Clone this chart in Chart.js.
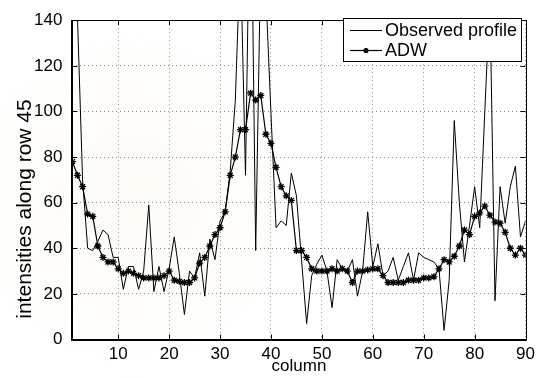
<!DOCTYPE html>
<html>
<head>
<meta charset="utf-8">
<script src="https://cdn.jsdelivr.net/npm/chart.js@4.4.0/dist/chart.umd.min.js"></script>
<style>
  html, body { margin: 0; padding: 0; background: #fff; }
  #wrap { position: relative; width: 540px; height: 378px; }
</style>
</head>
<body>
<div id="wrap"><canvas id="profileChart"></canvas></div>
<script>
// ------------------------------
// profile data (row 45)
// ------------------------------
const columns = [
   1,  2,  3,  4,  5,  6,  7,  8,  9, 10, 11, 12, 13, 14, 15, 16, 17, 18,
  19, 20, 21, 22, 23, 24, 25, 26, 27, 28, 29, 30, 31, 32, 33, 34, 35, 36,
  37, 38, 39, 40, 41, 42, 43, 44, 45, 46, 47, 48, 49, 50, 51, 52, 53, 54,
  55, 56, 57, 58, 59, 60, 61, 62, 63, 64, 65, 66, 67, 68, 69, 70, 71, 72,
  73, 74, 75, 76, 77, 78, 79, 80, 81, 82, 83, 84, 85, 86, 87, 88, 89, 90
];

const observedProfile = [
  160, 141, 70, 40, 39, 43, 48, 46, 36, 36, 22, 32, 32, 22, 30, 59, 21, 32,
  21, 31, 45, 29, 11, 30, 27, 38, 19, 44, 35, 52, 56, 74, 105, 170, 72, 220,
  39, 169, 152, 99, 49, 52, 50, 73, 63, 35, 7, 28, 33, 37, 30, 14, 35, 31,
  30, 35, 19, 30, 56, 32, 42, 28, 30, 36, 26, 32, 38, 26, 38, 36, 35, 34,
  31, 4, 26, 96, 60, 34, 50, 67, 49, 100, 150, 17, 67, 51, 67, 76, 45, 52
];

const adwProfile = [
  78, 72, 67, 55, 54, 41, 36, 34, 34, 31, 29, 30, 29, 28, 27, 27, 27, 27,
  28, 30, 26, 25.5, 25, 25, 27, 33.5, 36, 41, 46, 49, 56, 72, 80, 92, 92, 108,
  105, 107, 90, 86, 75.5, 67, 63, 61, 39, 39, 36, 31, 30, 30, 30, 31, 30, 31,
  30, 25, 30, 30, 30.5, 31, 31, 28, 25, 25, 25, 25, 26, 26, 26, 27, 27, 27.5,
  31, 35, 34, 36.5, 41, 48, 46, 54, 55.5, 58.5, 54.5, 51.5, 51, 47, 40, 37, 40, 37
];

const seriesLabels = ["Observed profile", "ADW"];
const xTickValues = [10, 20, 30, 40, 50, 60, 70, 80, 90];
const yTickValues = [0, 20, 40, 60, 80, 100, 120, 140];
const xAxisTitle = "column";
const yAxisTitle = "intensities along row 45";

const FONT = "'Liberation Sans', Arial, Helvetica, sans-serif";

// ------------------------------
// faint seal behind the plot
// ------------------------------
const paperTint = {
  id: "paperTint",
  beforeDraw(chart) {
    const { ctx } = chart;
    ctx.save();
    const g = ctx.createRadialGradient(130, 200, 10, 130, 200, 200);
    g.addColorStop(0, "rgba(247, 240, 215, 0.22)");
    g.addColorStop(0.6, "rgba(250, 244, 225, 0.14)");
    g.addColorStop(1, "rgba(255, 255, 255, 0)");
    ctx.fillStyle = g;
    ctx.fillRect(0, 0, 340, 378);
    ctx.restore();
  }
};

// ------------------------------
// box, inward ticks, legend, axis titles
// ------------------------------
const matlabFrame = {
  id: "matlabFrame",
  afterDatasetsDraw(chart) {
    const { ctx, chartArea: a, scales: { x, y } } = chart;
    ctx.save();
    ctx.strokeStyle = "#000";
    ctx.lineWidth = 1;

    ctx.beginPath();
    xTickValues.forEach(v => {
      const px = Math.round(x.getPixelForValue(v)) + 0.5;
      ctx.moveTo(px, a.bottom); ctx.lineTo(px, a.bottom - 5);
      ctx.moveTo(px, a.top); ctx.lineTo(px, a.top + 5);
    });
    yTickValues.forEach(v => {
      const py = Math.round(y.getPixelForValue(v)) + 0.5;
      ctx.moveTo(a.left, py); ctx.lineTo(a.left + 5, py);
      ctx.moveTo(a.right, py); ctx.lineTo(a.right - 5, py);
    });
    ctx.stroke();

    const L = Math.round(a.left), R = Math.round(a.right);
    const T = Math.round(a.top), B = Math.round(a.bottom);
    // thin top and right edges
    ctx.beginPath();
    ctx.moveTo(L, T + 0.5); ctx.lineTo(R + 0.5, T + 0.5); ctx.lineTo(R + 0.5, B);
    ctx.stroke();
    // heavier left and bottom axes
    ctx.lineWidth = 2;
    ctx.beginPath();
    ctx.moveTo(L, T); ctx.lineTo(L, B); ctx.lineTo(R + 1, B);
    ctx.stroke();

    // legend box, upper right
    const lx = 343.5, ly = 18.5, lw = 178, lh = 43;
    ctx.lineWidth = 1;
    ctx.fillStyle = "#fff";
    ctx.fillRect(lx, ly, lw, lh);
    ctx.strokeRect(lx, ly, lw, lh);

    ctx.font = "18px " + FONT;
    ctx.fillStyle = "#000";
    ctx.textBaseline = "middle";
    ctx.textAlign = "left";
    const rows = [30, 50];
    chart.data.datasets.forEach((ds, i) => {
      const ry = rows[i] + 0.5;
      ctx.beginPath();
      ctx.lineWidth = ds.borderWidth;
      ctx.moveTo(350, ry); ctx.lineTo(382, ry);
      ctx.stroke();
      if (ds.pointRadius > 0) {
        Chart.helpers.drawPoint(ctx, {
          pointStyle: "circle", radius: 2, borderWidth: 1, rotation: 0
        }, 366, ry);
      }
      ctx.fillText(ds.label, 385, rows[i] + 1);
    });
    ctx.restore();
  },
  afterDraw(chart) {
    const { ctx, chartArea: a } = chart;
    ctx.save();
    ctx.fillStyle = "#000";
    ctx.textAlign = "center";
    ctx.textBaseline = "middle";
    ctx.font = "17px " + FONT;
    ctx.fillText(xAxisTitle, (a.left + a.right) / 2, 366);

    ctx.translate(25, 209);
    ctx.rotate(-Math.PI / 2);
    ctx.font = "21px " + FONT;
    ctx.fillText(yAxisTitle, 0, 0);
    ctx.restore();
  }
};

new Chart(document.getElementById("profileChart"), {
  type: "line",
  data: {
    datasets: [
      {
        label: seriesLabels[0],
        data: columns.map((c, i) => ({ x: c, y: observedProfile[i] })),
        borderColor: "#000",
        borderWidth: 1,
        pointRadius: 0,
        tension: 0
      },
      {
        label: seriesLabels[1],
        data: columns.map((c, i) => ({ x: c, y: adwProfile[i] })),
        borderColor: "#000",
        backgroundColor: "#000",
        borderWidth: 1.2,
        pointStyle: "star",
        pointRadius: 3.5,
        pointBorderWidth: 1.3,
        tension: 0
      }
    ]
  },
  options: {
    responsive: true,
    maintainAspectRatio: false,
    animation: false,
    devicePixelRatio: 1,
    layout: { padding: { left: 0, top: 14, right: 13.7, bottom: 0 } },
    plugins: { legend: { display: false }, tooltip: { enabled: false } },
    scales: {
      x: {
        type: "linear",
        min: 1,
        max: 90,
        afterBuildTicks: s => { s.ticks = xTickValues.map(v => ({ value: v })); },
        afterFit: s => { s.height = 38.5; },
        grid: { color: "#8c8c8c", lineWidth: 1, drawTicks: false },
        border: { display: false, dash: [1, 3] },
        ticks: { color: "#000", font: { family: FONT, size: 17 }, padding: 5, maxRotation: 0 }
      },
      y: {
        min: 0,
        max: 140,
        afterBuildTicks: s => { s.ticks = yTickValues.map(v => ({ value: v })); },
        afterFit: s => { s.width = 72.4; },
        grid: { color: "#8c8c8c", lineWidth: 1, drawTicks: false },
        border: { display: false, dash: [1, 3] },
        ticks: { color: "#000", font: { family: FONT, size: 17 }, padding: 10 }
      }
    }
  },
  plugins: [paperTint, matlabFrame]
});
</script>
</body>
</html>
